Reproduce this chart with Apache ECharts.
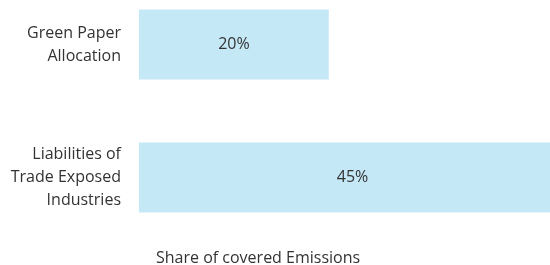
<!DOCTYPE html>
<html>
<head>
<meta charset="utf-8">
<script src="https://cdn.jsdelivr.net/npm/echarts@6/dist/echarts.min.js"></script>
<style>
    html,body{margin:0;padding:0;background:#fff;}
    #chart{width:550px;height:265px;}
</style>
</head>
<body>
<div id="chart"></div>
<script>
    const categories = ['Green Paper\nAllocation', 'Liabilities of\nTrade Exposed\nIndustries'];
    const shares = [20, 45];
    const axisTitle = 'Share of covered Emissions';

    const font = '"Open Sans", "Noto Sans", sans-serif';
    const chart = echarts.init(document.getElementById('chart'));
    chart.setOption({
        backgroundColor: '#fff',
        animation: false,
        title: {
            text: axisTitle,
            left: 151,
            top: 245,
            textStyle: {
                fontFamily: font,
                fontSize: 16,
                fontWeight: 'normal',
                color: '#333'
            }
        },
        grid: {
            left: 139,
            width: 427,
            top: -22,
            height: 266,
            containLabel: false,
            outerBoundsMode: 'none'
        },
        xAxis: {
            type: 'value',
            min: 0,
            max: 45,
            show: false
        },
        yAxis: {
            type: 'category',
            inverse: true,
            data: categories,
            axisLine: {show: false},
            axisTick: {show: false},
            axisLabel: {
                margin: 18,
                fontFamily: font,
                fontSize: 16,
                lineHeight: 23,
                color: '#333',
                align: 'right'
            }
        },
        series: [{
            type: 'bar',
            data: shares,
            barWidth: 70,
            itemStyle: {color: '#c5e8f7'},
            label: {
                show: true,
                position: 'inside',
                formatter: '{c}%',
                fontFamily: font,
                fontSize: 16,
                color: '#333'
            }
        }]
    });
</script>
</body>
</html>
